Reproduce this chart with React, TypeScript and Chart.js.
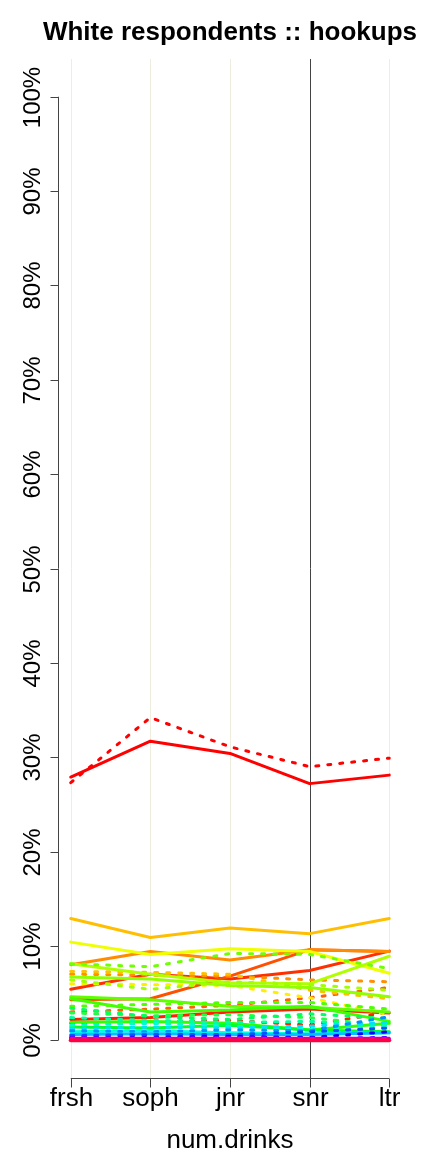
import React, { useEffect, useRef } from "react";
import { Chart, registerables } from "chart.js";

Chart.register(...registerables);

const categories = ["frsh", "soph", "jnr", "snr", "ltr"];
const yTicks = [0, 10, 20, 30, 40, 50, 60, 70, 80, 90, 100];
const titleText = "White respondents :: hookups";
const xTitle = "num.drinks";

// draw order: first listed is drawn first (underneath)
const lineColors = [
  "#FF0000", "#FF0000", "#FF3000", "#FF5000", "#FF8C00", "#FFBF00", "#EEFF00",
  "#FF2000", "#FF2000", "#FF6000", "#FF9000", "#FFC000", "#FFEE00",
  "#B0FF00", "#90FF00", "#70FF00", "#A0FF00", "#60FF00", "#40FF00", "#50FF00",
  "#20FF40", "#00FF60", "#30FF00", "#00FF30", "#00FFA0", "#00FFD0", "#00E0FF",
  "#00FFE0", "#0090FF", "#00C0FF", "#0050FF", "#0000FF", "#6000FF", "#B000FF",
  "#FF00C0", "#FF0040",
];
const lineDotted = [
  false, true, false, false, false, false, false,
  false, true, true, true, true, true,
  false, false, true, true, false, false, true,
  true, true, false, false, true, true, true,
  false, true, false, true, true, true, false,
  true, false,
];
const lineValues = [
  [27.9, 31.7, 30.4, 27.2, 28.1],
  [27.3, 34.2, 31.1, 29.0, 29.9],
  [5.4, 7.0, 6.5, 7.4, 9.45],
  [4.3, 4.4, 6.8, 9.6, 9.4],
  [8.0, 9.4, 8.5, 9.6, 9.4],
  [12.9, 10.9, 11.9, 11.3, 12.9],
  [10.4, 9.1, 9.7, 9.4, 7.1],
  [2.2, 2.4, 3.0, 3.3, 2.9],
  [1.8, 2.0, 2.1, 1.6, 3.0],
  [3.0, 3.3, 3.7, 4.5, 5.6],
  [7.0, 6.9, 6.8, 6.4, 6.2],
  [7.3, 7.2, 7.0, 5.3, 4.4],
  [6.0, 5.9, 5.8, 4.5, 2.7],
  [8.1, 7.0, 6.1, 6.0, 8.9],
  [6.7, 6.5, 5.8, 5.6, 4.6],
  [8.1, 7.8, 9.2, 9.1, 7.6],
  [6.4, 5.4, 6.2, 5.9, 5.3],
  [4.6, 4.3, 3.6, 3.5, 3.0],
  [4.4, 3.0, 3.2, 3.6, 2.0],
  [3.6, 3.8, 4.0, 4.0, 3.3],
  [2.9, 2.6, 2.7, 2.4, 1.5],
  [3.4, 2.5, 2.2, 2.8, 2.3],
  [1.9, 2.0, 1.8, 1.1, 1.8],
  [1.4, 1.3, 1.6, 1.1, 0.9],
  [2.4, 2.1, 1.9, 2.0, 1.6],
  [1.6, 1.8, 1.5, 1.2, 1.4],
  [1.2, 1.4, 1.3, 1.5, 1.9],
  [0.9, 1.0, 0.8, 0.7, 0.8],
  [1.0, 0.9, 1.1, 1.0, 2.5],
  [0.6, 0.7, 0.6, 0.6, 0.8],
  [0.5, 0.6, 0.6, 0.9, 1.3],
  [0.3, 0.3, 0.4, 0.3, 0.9],
  [0.3, 0.2, 0.3, 0.2, 0.3],
  [0.2, 0.2, 0.2, 0.2, 0.2],
  [0.1, 0.1, 0.1, 0.1, 0.1],
  [0.0, 0.0, 0.0, 0.0, 0.0],
];

const FONT = "'Liberation Sans', Arial, Helvetica, sans-serif";

const decorPlugin = {
  id: "decor",
  beforeDatasetsDraw(chart: any) {
    const { ctx, chartArea, scales } = chart;
    const xs = scales.x;
    ctx.save();
    ctx.lineWidth = 1;
    categories.forEach((_, i) => {
      const x = Math.round(xs.getPixelForValue(i)) + 0.5;
      ctx.strokeStyle = i === 3 ? "#444444" : "#EEEEDF";
      ctx.beginPath();
      ctx.moveTo(x, chartArea.top);
      ctx.lineTo(x, chartArea.bottom);
      ctx.stroke();
    });
    ctx.restore();
  },
  afterDraw(chart: any) {
    const { ctx, chartArea, scales } = chart;
    const xs = scales.x;
    const ys = scales.y;
    ctx.save();
    ctx.strokeStyle = "#444444";
    ctx.fillStyle = "#000000";
    ctx.lineWidth = 1;
    // y axis
    const ax = Math.round(chartArea.left) + 0.5;
    ctx.beginPath();
    ctx.moveTo(ax, ys.getPixelForValue(0));
    ctx.lineTo(ax, ys.getPixelForValue(100));
    ctx.stroke();
    ctx.font = `24px ${FONT}`;
    ctx.textAlign = "center";
    ctx.textBaseline = "alphabetic";
    yTicks.forEach((v) => {
      const y = Math.round(ys.getPixelForValue(v)) + 0.5;
      ctx.beginPath();
      ctx.moveTo(ax - 8, y);
      ctx.lineTo(ax, y);
      ctx.stroke();
      ctx.save();
      ctx.translate(ax - 19, y);
      ctx.rotate(-Math.PI / 2);
      ctx.fillText(v + "%", 0, 0);
      ctx.restore();
    });
    // x axis
    const by = Math.round(chartArea.bottom) + 0.5;
    ctx.beginPath();
    ctx.moveTo(xs.getPixelForValue(0), by);
    ctx.lineTo(xs.getPixelForValue(categories.length - 1), by);
    ctx.stroke();
    ctx.font = `26px ${FONT}`;
    categories.forEach((c, i) => {
      const x = Math.round(xs.getPixelForValue(i)) + 0.5;
      ctx.beginPath();
      ctx.moveTo(x, by);
      ctx.lineTo(x, by + 9);
      ctx.stroke();
      ctx.fillText(c, x, by + 27);
    });
    const cx = (chartArea.left + chartArea.right) / 2;
    ctx.fillText(xTitle, cx, by + 69);
    ctx.font = `bold 26px ${FONT}`;
    ctx.fillText(titleText, cx, 40);
    ctx.restore();
  },
};

export default function App() {
  const ref = useRef<HTMLCanvasElement | null>(null);
  useEffect(() => {
    document.body.style.margin = "0";
    const canvas = ref.current;
    if (!canvas) return;
    const n = lineValues.length;
    const datasets = lineValues.map((vals, i) => ({
      label: "s" + i,
      data: vals.map((v, j) => ({ x: j, y: v })),
      borderColor: lineColors[i],
      backgroundColor: lineColors[i],
      borderWidth: i === n - 1 ? 4 : 3,
      borderDash: lineDotted[i] ? [3, 9] : [],
      borderCapStyle: "round",
      borderJoinStyle: "round",
      pointRadius: 0,
      fill: false,
      tension: 0,
      order: n - i,
    }));
    const chart = new Chart(canvas, {
      type: "line",
      data: { datasets },
      options: {
        animation: false,
        responsive: false,
        devicePixelRatio: 1,
        layout: { padding: { left: 58, right: 30, top: 59, bottom: 74 } },
        plugins: { legend: { display: false }, title: { display: false }, tooltip: { enabled: false } },
        scales: {
          x: { type: "linear", min: -0.16, max: 4.16, display: false },
          y: { type: "linear", min: -4, max: 104, display: false },
        },
      },
      plugins: [decorPlugin],
    } as any);
    return () => chart.destroy();
  }, []);
  return (
    <div style={{ width: 432, height: 1152 }}>
      <canvas ref={ref} width={432} height={1152} style={{ display: "block" }} />
    </div>
  );
}
